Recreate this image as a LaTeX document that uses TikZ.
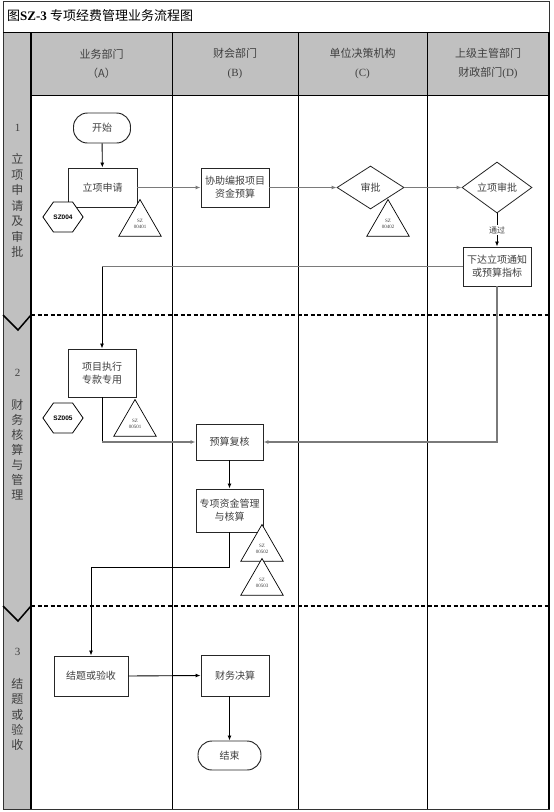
\documentclass[tikz,border=0pt]{standalone}
\usepackage{fontspec}
\setmainfont{Liberation Serif}
\newfontfamily\cjk{Noto Sans CJK SC}
\newfontfamily\hexfont{Liberation Sans}
\usetikzlibrary{shapes.geometric,shapes.symbols,arrows.meta}
\definecolor{lanegray}{HTML}{C0C0C0}
\tikzset{
  box/.style={draw=black!85, line width=0.95pt, fill=white, inner sep=1pt, align=center,
    font=\cjk\fontsize{10}{13}\selectfont, text=black!75},
  term/.style={box, rounded corners=14pt},
  dia/.style={diamond, draw=black!85, line width=0.8pt, fill=white, inner sep=0pt, align=center,
    font=\cjk\fontsize{10}{13}\selectfont, text=black!75},
  tri/.style={regular polygon, regular polygon sides=3, minimum size=49pt, draw=black, line width=0.7pt,
    fill=white, inner sep=0pt, align=center, font=\fontsize{5}{6.5}\selectfont, text=black!75},
  hexa/.style={signal, signal to=west and east, signal pointer angle=110, minimum width=40pt,
    minimum height=30pt, draw=black, line width=0.8pt, fill=white, inner sep=0pt,
    font=\hexfont\bfseries\fontsize{6.5}{7}\selectfont},
  gline/.style={draw=black!52, line width=1.6pt},
  bline/.style={draw=black, line width=0.9pt},
  arr/.style={-{Latex[length=5pt,width=4pt]}},
  hdr/.style={align=center, font=\cjk\fontsize{11}{19}\selectfont, text=black!75},
  phase/.style={align=center, text=black!75},
  lane/.style={draw=black, line width=0.9pt},
  sep/.style={draw=black, line width=1.6pt, dash pattern=on 4pt off 2.5pt},
  chev/.style={draw=black, line width=1.5pt}
}
\begin{document}
\begin{tikzpicture}[x=1pt,y=-1pt]
\useasboundingbox (0,0) rectangle (554,812);
% backgrounds
\fill[white] (0,0) rectangle (554,812);
\fill[lanegray] (3,32) rectangle (31,809);
\fill[lanegray] (31,32) rectangle (549,95);
% frame
\draw[line width=1pt, draw=black!80] (3,1) rectangle (549,809);
\draw[line width=1pt] (3,32) -- (549,32);
\draw[line width=1pt] (31,95) -- (549,95);
\draw[line width=1.8pt] (31,32) -- (31,809);
\draw[lane] (172,32) -- (172,809);
\draw[lane] (298,32) -- (298,809);
\draw[lane] (427,32) -- (427,809);
\draw[line width=1.2pt] (549,32) -- (549,809);
% title
\node[anchor=west, inner sep=0pt, font=\fontsize{13}{15}\selectfont] (title) at (7,16)
  {{\cjk 图}\textbf{SZ-3} {\cjk 专项经费管理业务流程图}};
% headers
\node[hdr] (hA) at (101.5,63.5) {业务部门\\（A）};
\node[hdr] (hB) at (235,63.5) {财会部门\\{\rmfamily(B)}};
\node[hdr] (hC) at (362.5,63.5) {单位决策机构\\{\rmfamily(C)}};
\node[hdr] (hD) at (488,63.5) {上级主管部门\\财政部门{\rmfamily(D)}};
% phase labels
\node[phase, font=\fontsize{11}{13}\selectfont] (n1) at (17.5,128) {1};
\node[phase, font=\cjk\fontsize{12}{15.5}\selectfont] (p1) at (17.5,205.5) {立\\项\\申\\请\\及\\审\\批};
\node[phase, font=\fontsize{11}{13}\selectfont] (n2) at (17.5,373) {2};
\node[phase, font=\cjk\fontsize{12}{15}\selectfont] (p2) at (17.5,450) {财\\务\\核\\算\\与\\管\\理};
\node[phase, font=\fontsize{11}{13}\selectfont] (n3) at (17.5,652) {3};
\node[phase, font=\cjk\fontsize{12}{15.25}\selectfont] (p3) at (17.5,714.5) {结\\题\\或\\验\\收};
% phase separators
\draw[sep] (31,315) -- (549,315);
\draw[sep] (31,606) -- (549,606);
\draw[chev] (3,315) -- (18,330) -- (31,315);
\draw[chev] (3,606) -- (18,621) -- (31,606);
% phase 1 nodes
\node[term, minimum width=57pt, minimum height=30pt] (start) at (102,128) {开始};
\node[box, minimum width=69pt, minimum height=39pt] (apply) at (102.5,187.5) {立项申请};
\node[box, minimum width=68pt, minimum height=39pt] (assist) at (235,187.5) {协助编报项目\\资金预算};
\node[dia, minimum width=67pt, minimum height=43pt] (app1) at (370.5,187.5) {审批};
\node[dia, minimum width=70pt, minimum height=51pt] (app2) at (497,187.5) {立项审批};
\node[box, minimum width=68pt, minimum height=39pt] (issue) at (497,266.5) {下达立项通知\\或预算指标};
\node[hexa] (h1) at (63,217) {SZ004};
\node[tri] (t1) at (140,224) {SZ\\00401};
\node[tri] (t2) at (388,224) {SZ\\00402};
% phase 2 nodes
\node[box, minimum width=68pt, minimum height=48pt] (exec) at (102,373) {项目执行\\专款专用};
\node[hexa] (h2) at (63,418) {SZ005};
\node[tri] (t3) at (135,424) {SZ\\00501};
\node[box, minimum width=67pt, minimum height=36pt] (review) at (229.5,442) {预算复核};
\node[box, minimum width=67pt, minimum height=43pt] (fund) at (229.5,510.5) {专项资金管理\\与核算};
\node[tri] (t4) at (262,549) {SZ\\00502};
\node[tri] (t5) at (262,583) {SZ\\00503};
% phase 3 nodes
\node[box, minimum width=74pt, minimum height=40pt] (close) at (91,676) {结题或验收};
\node[box, minimum width=68pt, minimum height=41pt] (final) at (235,675.5) {财务决算};
\node[term, minimum width=63pt, minimum height=29pt] (end) at (229.5,755.5) {结束};
% connectors
\draw[bline, arr] (start) -- (apply);
\draw[gline, arr] (apply.east) -- (assist.west);
\draw[gline, arr] (assist.east) -- (app1.west);
\draw[gline, arr] (app1.east) -- (app2.west);
\draw[bline, arr] (app2.south) -- node[fill=white, inner sep=1pt, font=\cjk\fontsize{8}{9}\selectfont, text=black!75] (pass) {通过} (issue.north);
\coordinate (i1) at (exec.north |- issue.west);
\draw[gline] (issue.west) -- (i1);
\draw[bline, arr] (i1) -- (exec.north);
\draw[gline, arr] (issue.south) |- (review.east);
\coordinate (e1) at (exec.south |- review.west);
\draw[bline] (exec.south) -- (e1);
\draw[gline, arr] (e1) -- (review.west);
\draw[bline, arr] (review) -- (fund);
\coordinate (f1) at (229.5,567);
\draw[bline, arr] (fund.south) -- (f1) -| (close.north);
\draw[bline, arr] (close.east) -- (final.west);
\coordinate (r1) at (end.north |- final.south);
\draw[bline, arr] (r1) -- (end.north);
\end{tikzpicture}
\end{document}
